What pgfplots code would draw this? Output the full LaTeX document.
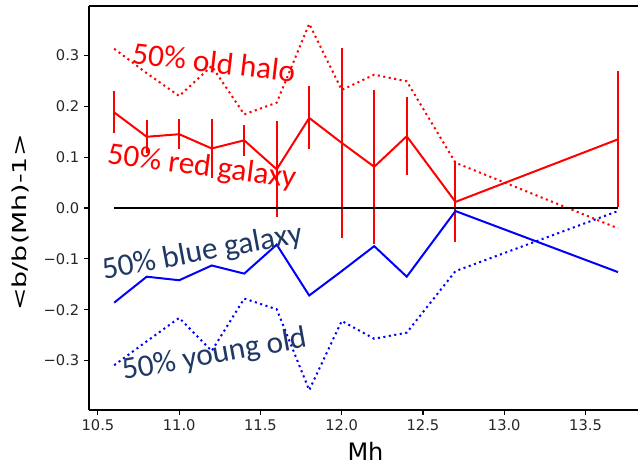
\documentclass[border=0pt]{standalone}
\usepackage{graphicx}
\usepackage{pgfplots}
\pgfplotsset{compat=1.18}
\usepackage{pgfplotstable}
\usepackage{fontspec}
\setmainfont{DejaVu Sans}
\newfontfamily\calibri{Carlito}
\definecolor{navy}{HTML}{1F3864}

\pgfplotstableread{
x     red    rerr   reddot  blue    bluedot
10.6  0.188  0.041  0.313  -0.186  -0.309
10.8  0.140  0.032  0.265  -0.135  -0.262
11.0  0.145  0.029  0.220  -0.142  -0.216
11.2  0.117  0.058  0.279  -0.113  -0.281
11.4  0.133  0.030  0.184  -0.129  -0.178
11.6  0.076  0.094  0.207  -0.072  -0.199
11.8  0.177  0.062  0.362  -0.172  -0.358
12.0  0.128  0.187  0.232  -0.124  -0.222
12.2  0.081  0.151  0.262  -0.075  -0.257
12.4  0.141  0.077  0.249  -0.135  -0.245
12.7  0.012  0.078  0.089  -0.006  -0.124
13.7  0.135  0.134  -0.040 -0.126  -0.006
}\data

\begin{document}
\begin{tikzpicture}
\begin{axis}[
  name=ax,
  scale only axis,
  width=411.75pt, height=303pt,
  xmin=10.445, xmax=13.823,
  ymin=-0.397, ymax=0.397,
  axis x line=box, axis y line=left,
  x axis line style={-}, y axis line style={-},
  axis line style={line width=0.9pt, black},
  xtick={10.5,11,11.5,12,12.5,13,13.5},
  xticklabels={10.5,11.0,11.5,12.0,12.5,13.0,13.5},
  ytick={-0.3,-0.2,-0.1,0,0.1,0.2,0.3},
  yticklabels={−0.3,−0.2,−0.1,0.0,0.1,0.2,0.3},
  xtick pos=left, ytick pos=left,
  tick align=outside,
  major tick length=3.75pt,
  tick style={black, line width=0.8pt},
  ticklabel style={font=\fontsize{11}{13}\selectfont, text=black!85},
  xlabel={Mh},
  ylabel={\scalebox{1.12}[0.8]{<b/b(Mh)-1>}},
  xlabel style={font=\fontsize{18}{22}\selectfont, at={(rel axis cs:0.5036,-0.126)}, anchor=base},
  ylabel style={font=\fontsize{18}{22}\selectfont, at={(rel axis cs:-0.1257,0.464)}, anchor=center},
]
\addplot[red, line width=1.5pt, no marks,
  error bars/.cd, y dir=both, y explicit, error mark=none,
  error bar style={line width=1.5pt, red}]
  table[x=x, y=red, y error=rerr] {\data};
\addplot[red, line width=1.5pt, no marks, dash pattern=on 1.56pt off 2.6pt]
  table[x=x, y=reddot] {\data};
\addplot[blue, line width=1.5pt, no marks]
  table[x=x, y=blue] {\data};
\addplot[blue, line width=1.5pt, no marks, dash pattern=on 1.56pt off 2.6pt]
  table[x=x, y=bluedot] {\data};
\addplot[black, line width=1.6pt, no marks] coordinates {(10.6,0) (13.7,0)};

\node[rotate=-6.6, anchor=base, text=red, font=\calibri\fontsize{23.5}{28}\selectfont]
  at (axis cs:11.206,0.266) {50\% old halo};
\node[rotate=-7.4, anchor=base, text=red, font=\calibri\fontsize{23.5}{28}\selectfont]
  at (axis cs:11.132,0.064) {50\% red galaxy};
\node[rotate=10.5, anchor=base, text=navy, font=\calibri\fontsize{23.5}{28}\selectfont]
  at (axis cs:11.151,-0.104) {50\% blue galaxy};
\node[rotate=10.1, anchor=base, text=navy, font=\calibri\fontsize{23.5}{28}\selectfont]
  at (axis cs:11.225,-0.3055) {50\% young old};
\end{axis}
\pgfresetboundingbox
\path[use as bounding box] (ax.south west) ++(-66.75pt,-42pt) rectangle ++(478.5pt,349.5pt);
\end{tikzpicture}
\end{document}
